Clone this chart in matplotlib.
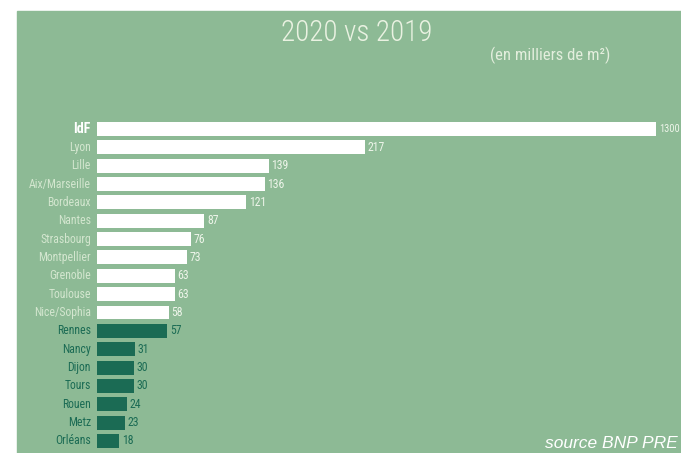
import matplotlib

matplotlib.use("Agg")
import matplotlib.pyplot as plt
from matplotlib import font_manager
from matplotlib.patches import Rectangle

cities = [
    "IdF", "Lyon", "Lille", "Aix/Marseille", "Bordeaux", "Nantes", "Strasbourg",
    "Montpellier", "Grenoble", "Toulouse", "Nice/Sophia", "Rennes", "Nancy",
    "Dijon", "Tours", "Rouen", "Metz", "Orléans",
]
values = [1300, 217, 139, 136, 121, 87, 76, 73, 63, 63, 58, 57, 31, 30, 30, 24, 23, 18]
n_light = 11  # first 11 cities drawn in white, the rest in dark green

BG = "#8dba95"
DARK = "#1b6b54"
PALE = "#d3e6cf"
CAP = 453  # IdF bar is shown truncated

# pick a narrow font if one is installed
names = {f.name for f in font_manager.fontManager.ttflist}
narrow = None
for cand in ("Roboto Condensed", "Liberation Sans Narrow", "DejaVu Sans Condensed"):
    if cand in names:
        narrow = cand
        break
if narrow is None:
    narrow = "DejaVu Sans"
stretch = "normal" if narrow != "DejaVu Sans" else "condensed"

W, H = 681, 453
fig = plt.figure(figsize=(W / 100, H / 100), dpi=100)
fig.patch.set_facecolor("white")
fig.add_artist(Rectangle((17 / W, 0), 1 - 17 / W, (H - 11) / H,
                         transform=fig.transFigure, color=BG, zorder=0))

ax = fig.add_axes([97 / W, 0, (W - 97) / W, 343 / H])
ax.set_facecolor("none")
ax.set_xlim(0, (W - 97) / 1.235)
ax.set_ylim(-1.035 + 343 / 18.35, -1.035)

for i, (city, v) in enumerate(zip(cities, values)):
    light = i < n_light
    w = min(v, CAP)
    ax.barh(i, w, height=0.76, color="white" if light else DARK)
    vcol = "#eef5ea" if light else DARK
    ax.text(w + 2, i, str(v), va="center", ha="left",
            fontsize=7.5 if i == 0 else 8.5,
            color=vcol, family=narrow, fontstretch=stretch)
    if i == 0:
        lcol, lw, fs = "white", "bold", 10
    elif light:
        lcol, lw, fs = PALE, "normal", 8.5
    else:
        lcol, lw, fs = DARK, "normal", 8.5
    ax.text(-5, i, city, va="center", ha="right", fontsize=fs, color=lcol,
            fontweight=lw, family=narrow, fontstretch=stretch, clip_on=False)

ax.axis("off")

fig.text(357 / W, 1 - 33 / H, "2020 vs 2019", ha="center", va="center",
         fontsize=21, color="#eaf2e2", family=narrow, fontstretch=stretch,
         fontweight="light")
fig.text(550 / W, 1 - 55 / H, "(en milliers de m²)", ha="center", va="center",
         fontsize=12, color="#e3eedd", family=narrow, fontstretch=stretch)
fig.text(545 / W, 1 - 443 / H, "source BNP PRE", ha="left", va="center",
         fontsize=12.5, color="white", style="italic", family="Liberation Sans")

fig.savefig("out.png", dpi=100)
